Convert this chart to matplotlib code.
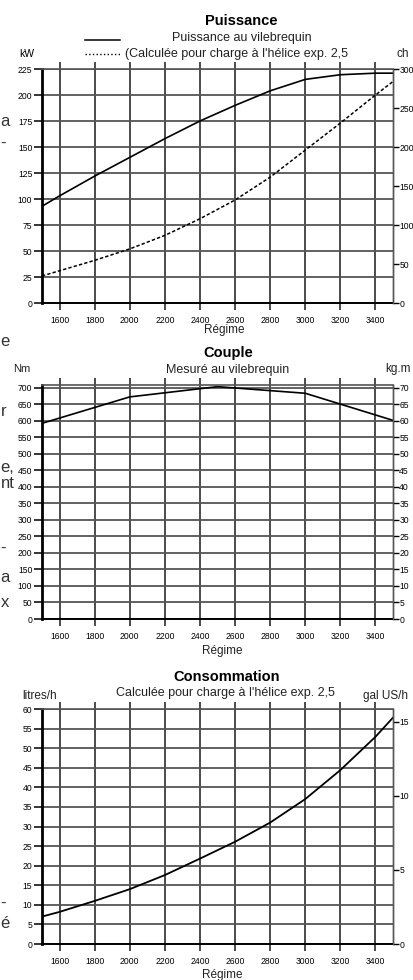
import matplotlib
matplotlib.use("Agg")
import matplotlib.pyplot as plt
from matplotlib.lines import Line2D

plt.rcParams['font.family'] = ['Liberation Sans', 'DejaVu Sans']

W, H = 414, 980

# --- data ---
rpm = [1500, 1600, 1800, 2000, 2200, 2400, 2600, 2800, 3000, 3200, 3400, 3500]
power_crank_kw = [93, 103, 122, 140, 158, 175, 190, 204, 215, 219.5, 221, 221]
power_prop_kw = [26, 31, 41, 52, 65, 81, 99, 121, 147, 173, 200, 213]

torque_rpm = [1500, 2000, 2500, 3000, 3500]
torque_nm = [592, 672, 703, 683, 601]

fuel_lph = [7, 8.2, 11, 14, 17.6, 21.8, 26.1, 31, 37, 44.4, 52.9, 57.8]

rpm_ticks = [1600, 1800, 2000, 2200, 2400, 2600, 2800, 3000, 3200, 3400]
kw_ticks = list(range(0, 226, 25))
ch_ticks = list(range(0, 301, 50))
nm_ticks = list(range(0, 701, 50))
kgm_ticks = list(range(0, 71, 5))
lph_ticks = list(range(0, 61, 5))
gal_ticks = [0, 5, 10, 15]

# cut-off words from the neighbouring text column (x left edge, y, text)
fragments = [(0, 121, "a"), (0, 143, "-"), (0, 342, "e"), (0, 412, "r"),
             (0, 467, "e,"), (0, 483, "nt"), (0, 548, "-"), (0, 577, "a"),
             (0, 602, "x"), (0, 903, "-"), (0, 923, "é")]

fig = plt.figure(figsize=(W / 100, H / 100), dpi=100)


def fx(x):
    return x / W


def fy(y):
    return 1 - y / H


def make_panel(top, bottom, ylim, yticks, rlim, rticks):
    ax = fig.add_axes([fx(42), fy(bottom), (393 - 42) / W, (bottom - top) / H])
    ax.set_xlim(1500, 3500)
    ax.set_ylim(*ylim)
    ax.set_xticks(rpm_ticks)
    ax.set_yticks(yticks)
    ax.grid(axis='x', color='#1a1a1a', lw=1.1)
    ax.grid(axis='y', color='#555555', lw=1.3)
    ax.set_axisbelow(True)
    ax.tick_params(axis='x', direction='out', length=5, width=1.1, color='#1a1a1a',
                   top=True, bottom=True, labelsize=6.2, pad=4)
    ax.tick_params(axis='y', direction='out', length=6, width=1.1, labelsize=6.2, pad=1)
    ax.spines['left'].set_linewidth(2.0)
    ax.spines['bottom'].set_linewidth(1.4)
    ax.spines['top'].set_color('#555555')
    ax.spines['top'].set_linewidth(1.2)
    ax.spines['right'].set_color('#555555')
    ax.spines['right'].set_linewidth(1.0)
    rax = ax.twinx()
    rax.set_ylim(*rlim)
    rax.set_yticks(rticks)
    rax.tick_params(axis='y', direction='out', length=4, width=1.0, labelsize=6.2, pad=0.5)
    for s in ['left', 'top', 'bottom']:
        rax.spines[s].set_visible(False)
    rax.spines['right'].set_color('#555555')
    rax.spines['right'].set_linewidth(1.0)
    return ax, rax


# --- Puissance ---
ax1, rax1 = make_panel(69, 303, (0, 225), kw_ticks, (0, 300), ch_ticks)
ax1.plot(rpm, power_crank_kw, color='black', lw=1.2)
ax1.plot(rpm, power_prop_kw, color='black', lw=1.1, dashes=(2.2, 1.4))
fig.text(fx(241), fy(21), "Puissance", ha='center', va='center', fontsize=10.5, fontweight='bold')
fig.text(fx(242), fy(38), "Puissance au vilebrequin", ha='center', va='center', fontsize=9, color='#222222')
fig.text(fx(125), fy(54), "(Calculée pour charge à l'hélice exp. 2,5", ha='left', va='center',
         fontsize=9, color='#222222')
fig.add_artist(Line2D([fx(85), fx(120)], [fy(40), fy(40)], color='black', lw=1.1))
fig.add_artist(Line2D([fx(85), fx(120)], [fy(54), fy(54)], color='black', lw=1.0, ls=':'))
fig.text(fx(27), fy(54), "kW", ha='center', va='center', fontsize=7.5)
fig.text(fx(403), fy(54), "ch", ha='center', va='center', fontsize=8.5, color='#222222')
fig.text(fx(224), fy(330), "Régime", ha='center', va='center', fontsize=8.5, color='#222222')

# --- Couple ---
ax2, rax2 = make_panel(385, 619, (0, 708), nm_ticks, (0, 70.8), kgm_ticks)
ax2.plot(torque_rpm, torque_nm, color='black', lw=1.2)
fig.text(fx(228), fy(353), "Couple", ha='center', va='center', fontsize=10.5, fontweight='bold')
fig.text(fx(228), fy(370), "Mesuré au vilebrequin", ha='center', va='center', fontsize=9, color='#222222')
fig.text(fx(22), fy(369), "Nm", ha='center', va='center', fontsize=8, color='#222222')
fig.text(fx(398), fy(369), "kg.m", ha='center', va='center', fontsize=8.5, color='#222222')
fig.text(fx(222), fy(651), "Régime", ha='center', va='center', fontsize=8.5, color='#222222')

# --- Consommation ---
ax3, rax3 = make_panel(709, 944, (0, 60), lph_ticks, (0, 60 / 3.785), gal_ticks)
ax3.plot(rpm, fuel_lph, color='black', lw=1.3)
fig.text(fx(227), fy(677), "Consommation", ha='center', va='center', fontsize=10.5, fontweight='bold')
fig.text(fx(225), fy(693), "Calculée pour charge à l'hélice exp. 2,5", ha='center', va='center',
         fontsize=9, color='#222222')
fig.text(fx(40), fy(696), "litres/h", ha='center', va='center', fontsize=8.5, color='#222222')
fig.text(fx(386), fy(696), "gal US/h", ha='center', va='center', fontsize=8.5, color='#222222')
fig.text(fx(222), fy(975), "Régime", ha='center', va='center', fontsize=8.5, color='#222222')

for x, y, t in fragments:
    fig.text(fx(x + 0.5), fy(y), t, ha='left', va='center', fontsize=12, color='#333333')

fig.savefig("out.png", dpi=100)
